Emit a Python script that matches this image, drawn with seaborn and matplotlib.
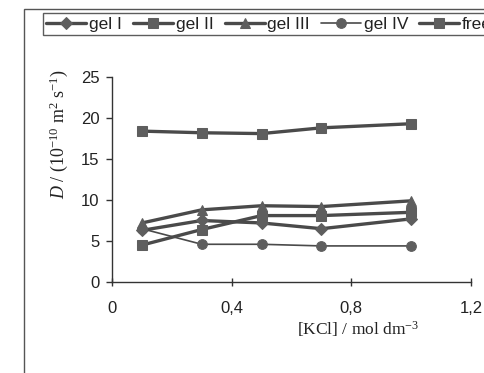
import matplotlib
matplotlib.use("Agg")
import matplotlib.pyplot as plt
import seaborn as sns
import pandas as pd
from matplotlib.patches import Rectangle

# data
kcl = [0.1, 0.3, 0.5, 0.7, 1.0]
gel_I = [6.3, 7.5, 7.2, 6.5, 7.7]
gel_II = [4.5, 6.4, 8.1, 8.1, 8.5]
gel_III = [7.2, 8.8, 9.3, 9.2, 9.9]
gel_IV = [6.5, 4.6, 4.6, 4.4, 4.4]
free = [18.4, 18.2, 18.1, 18.8, 19.3]
series_names = ["gel I", "gel II", "gel III", "gel IV", "free"]
xticks = [0, 0.4, 0.8, 1.2]
xtick_labels = ["0", "0,4", "0,8", "1,2"]
yticks = [0, 5, 10, 15, 20, 25]

sns.set_style("white")
plt.rcParams['font.family'] = ['Liberation Sans', 'DejaVu Sans']
plt.rcParams['mathtext.fontset'] = 'custom'
plt.rcParams['mathtext.rm'] = 'Liberation Serif'
plt.rcParams['mathtext.it'] = 'Liberation Serif:italic'

fig = plt.figure(figsize=(4.84, 3.73), dpi=100)
ax = fig.add_axes([112/484, 1 - 282/373, (471 - 112)/484, (282 - 77)/373])

series = [gel_I, gel_II, gel_III, gel_IV, free]
markers = ["D", "s", "^", "o", "s"]
msizes = [6.5, 7.5, 7.5, 7, 7.5]
lws = [2.4, 2.4, 2.4, 1.2, 2.4]
line_c = "#4a4a4a"
mark_c = "#5e5e5e"
for name, vals, m, ms, lw in zip(series_names, series, markers, msizes, lws):
    df = pd.DataFrame({"x": kcl, "y": vals})
    sns.lineplot(data=df, x="x", y="y", ax=ax, color=line_c, lw=lw,
                 marker=m, markersize=ms, markerfacecolor=mark_c,
                 markeredgecolor=mark_c, label=name, legend=False)

ax.set_xlim(0, 1.2)
ax.set_ylim(0, 25)
ax.set_xticks(xticks)
ax.set_xticklabels(xtick_labels)
ax.set_yticks(yticks)
ax.set_xlabel("")
ax.set_ylabel("")
for s in ["top", "right"]:
    ax.spines[s].set_visible(False)
for s in ["left", "bottom"]:
    ax.spines[s].set_color("#333333")
    ax.spines[s].set_linewidth(1.0)
ax.tick_params(axis="y", direction="out", length=4, width=1, color="#333333",
               labelsize=12, pad=5, labelcolor="#222222")
ax.tick_params(axis="x", direction="inout", length=6, width=1, color="#333333",
               labelsize=12, pad=11, labelcolor="#222222")
ax.tick_params(left=True, bottom=True)

# axis labels
fig.text(59/484, 1 - 134/373,
         r"$\mathit{D}$ / (10$^{-10}$ m$^{2}$ s$^{-1}$)",
         rotation=90, ha="center", va="center", fontsize=13,
         family="Liberation Serif", color="#222222")
fig.text(358/484, 1 - 329/373, r"[KCl] / mol dm$^{-3}$", ha="center", va="center",
         fontsize=12.5, family="Liberation Serif", color="#222222")

# chart area frame
fig.patches.append(Rectangle((24/484, -0.1), 1.2, 1 - 9/373 + 0.1,
                             transform=fig.transFigure, fill=False,
                             edgecolor="#555555", lw=1.0))

h, l = ax.get_legend_handles_labels()
leg = fig.legend(h, l, loc="upper left", bbox_to_anchor=(43/484, 1 - 13/373),
                 ncol=5, frameon=True, fontsize=12.5, handlelength=2.3,
                 handletextpad=0.15, columnspacing=0.65, borderpad=0.2,
                 fancybox=False, borderaxespad=0)
leg.get_frame().set_edgecolor("#333333")
leg.get_frame().set_linewidth(1.0)
for t in leg.get_texts():
    t.set_color("#222222")

fig.savefig("out.png", dpi=100)
